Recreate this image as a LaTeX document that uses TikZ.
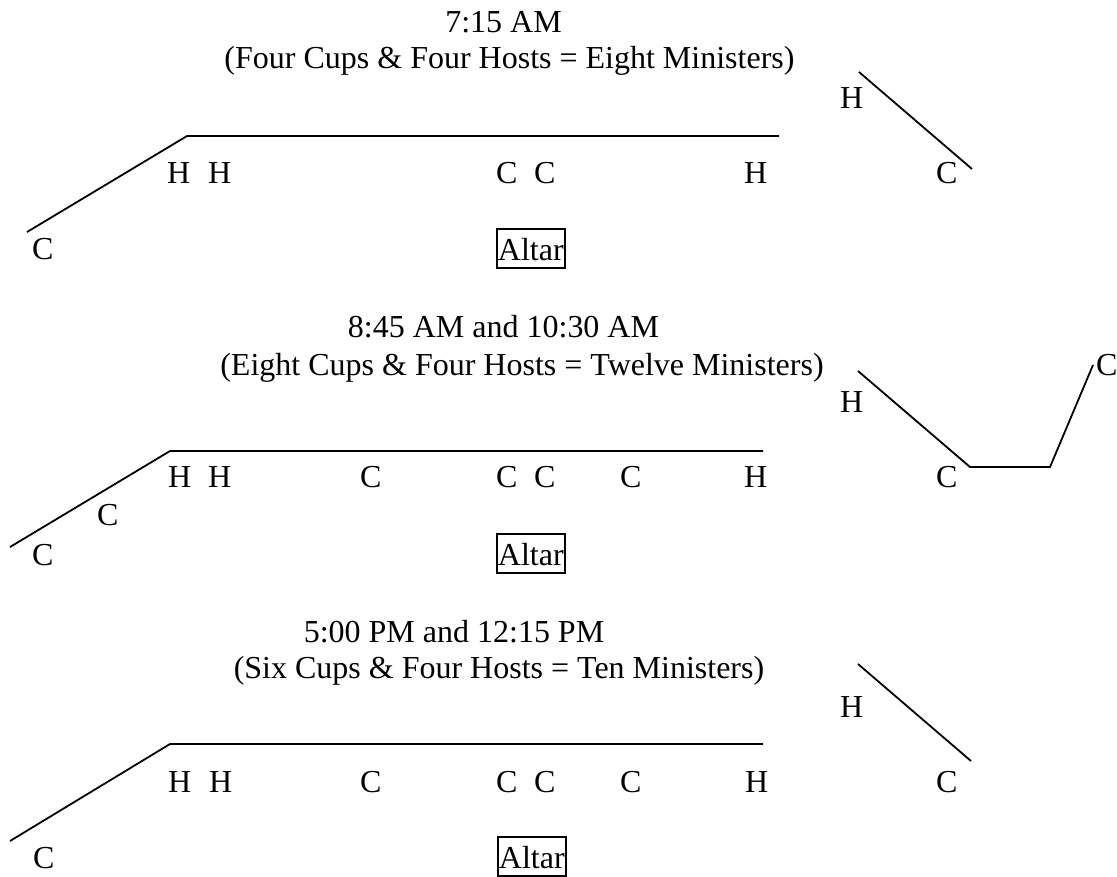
\documentclass[tikz,border=0pt]{standalone}
\usepackage{fontspec}
\setmainfont{Liberation Serif}
\usepackage{tikz}
\usetikzlibrary{positioning}

\begin{document}
\begin{tikzpicture}[x=1pt, y=-1pt,
    every node/.style={font=\fontsize{32}{38}\selectfont},
    lbl/.style={inner sep=0pt, anchor=base west},
    ttl/.style={inner sep=0pt, anchor=base},
    altar/.style={draw, line width=1.8pt, inner sep=0pt, inner xsep=1pt,
                  text height=31pt, text depth=8pt, anchor=base west},
    rail/.style={line width=1.8pt}]
\useasboundingbox (0,0) rectangle (1117,876);
%
% 7:15
\node[ttl] (t1a) at (503.5,32) {7:15 AM};
\node[ttl] (t1b) at (509.5,68) {(Four Cups \& Four Hosts = Eight Ministers)};
\coordinate (r1a) at (27,232);
\coordinate (r1b) at (187,136);
\coordinate (r1c) at (779,136);
\coordinate (s1a) at (859,72);
\coordinate (s1b) at (972,169);
\draw[rail] (r1a) -- (r1b) -- (r1c);
\draw[rail] (s1a) -- (s1b);
\node[lbl] (h1a) at (167,183) {H};
\node[lbl] (h1b) at (208,183) {H};
\node[lbl] (c1a) at (496,183) {C};
\node[lbl] (c1b) at (534,183) {C};
\node[lbl] (h1c) at (744,183) {H};
\node[lbl] (c1c) at (936,183) {C};
\node[lbl] (h1d) at (840,108) {H};
\node[lbl] (c1d) at (32,259) {C};
\node[altar] (alt1) at (496,260) {Altar};
%
% 8:45 and 10:30
\node[ttl] (t2a) at (503.5,337) {8:45 AM and 10:30 AM};
\node[ttl] (t2b) at (522,375) {(Eight Cups \& Four Hosts = Twelve Ministers)};
\coordinate (r2a) at (10,547);
\coordinate (r2b) at (170,451);
\coordinate (r2c) at (763,451);
\coordinate (s2a) at (858,371);
\coordinate (s2b) at (970,467);
\coordinate (s2c) at (1050,467);
\coordinate (s2d) at (1093,365);
\draw[rail] (r2a) -- (r2b) -- (r2c);
\draw[rail] (s2a) -- (s2b) -- (s2c) -- (s2d);
\node[lbl] (h2a) at (168,487) {H};
\node[lbl] (h2b) at (208,487) {H};
\node[lbl] (c2a) at (360,487) {C};
\node[lbl] (c2b) at (496,487) {C};
\node[lbl] (c2c) at (534,487) {C};
\node[lbl] (c2d) at (620,487) {C};
\node[lbl] (h2c) at (744,487) {H};
\node[lbl] (c2e) at (936,487) {C};
\node[lbl] (h2d) at (840,412) {H};
\node[lbl] (c2f) at (1096,375) {C};
\node[lbl] (c2g) at (97,525) {C};
\node[lbl] (c2h) at (32,565) {C};
\node[altar] (alt2) at (496,565) {Altar};
%
% 5:00 and 12:15
\node[ttl] (t3a) at (454,642) {5:00 PM and 12:15 PM};
\node[ttl] (t3b) at (499,678) {(Six Cups \& Four Hosts = Ten Ministers)};
\coordinate (r3a) at (10,841);
\coordinate (r3b) at (170,744);
\coordinate (r3c) at (763,744);
\coordinate (s3a) at (858,664);
\coordinate (s3b) at (971,761);
\draw[rail] (r3a) -- (r3b) -- (r3c);
\draw[rail] (s3a) -- (s3b);
\node[lbl] (h3a) at (168,792) {H};
\node[lbl] (h3b) at (209,792) {H};
\node[lbl] (c3a) at (360,792) {C};
\node[lbl] (c3b) at (496,792) {C};
\node[lbl] (c3c) at (534,792) {C};
\node[lbl] (c3d) at (620,792) {C};
\node[lbl] (h3c) at (745,792) {H};
\node[lbl] (c3e) at (936,792) {C};
\node[lbl] (h3d) at (840,717) {H};
\node[lbl] (c3f) at (33,868) {C};
\node[altar] (alt3) at (497,868) {Altar};
%
\end{tikzpicture}
\end{document}
